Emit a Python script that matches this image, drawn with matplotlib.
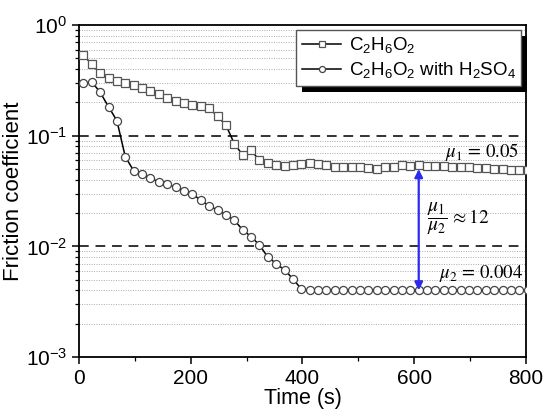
import matplotlib
matplotlib.use('Agg')
import matplotlib.pyplot as plt
from matplotlib.patches import Rectangle
from matplotlib.transforms import IdentityTransform
from matplotlib.ticker import LogLocator, MultipleLocator, NullFormatter

plt.rcParams['font.family'] = ['Liberation Sans', 'DejaVu Sans']
plt.rcParams['mathtext.default'] = 'regular'

# ---- data ----
time_s = [8, 23, 38, 53, 68, 83, 98, 113, 128, 143, 158, 173, 188, 203, 218, 233,
          248, 263, 278, 293, 308, 323, 338, 353, 368, 383, 398, 413, 428, 443, 458,
          473, 488, 503, 518, 533, 548, 563, 578, 593, 608, 623, 638, 653, 668, 683,
          698, 713, 728, 743, 758, 773, 788, 803]

mu_eg = [0.536, 0.444, 0.366, 0.330, 0.314, 0.301, 0.285, 0.268, 0.253, 0.237,
         0.218, 0.207, 0.196, 0.189, 0.187, 0.178, 0.150, 0.125, 0.085, 0.067,
         0.074, 0.060, 0.057, 0.054, 0.053, 0.054, 0.055, 0.057, 0.055, 0.054,
         0.052, 0.0525, 0.0525, 0.052, 0.051, 0.050, 0.052, 0.0525, 0.054, 0.053,
         0.054, 0.053, 0.053, 0.053, 0.052, 0.052, 0.052, 0.051, 0.051, 0.050,
         0.050, 0.049, 0.049, 0.049]

mu_eg_acid = [0.297, 0.308, 0.247, 0.183, 0.137, 0.0646, 0.0483, 0.0448, 0.0412,
              0.0384, 0.0366, 0.0342, 0.0319, 0.0297, 0.0262, 0.0232, 0.0213,
              0.0192, 0.0173, 0.0141, 0.01225, 0.0103, 0.0080, 0.0070, 0.0061,
              0.0051, 0.0041, 0.004, 0.004, 0.004, 0.004, 0.004, 0.004, 0.004,
              0.004, 0.004, 0.004, 0.004, 0.004, 0.004, 0.004, 0.004, 0.004, 0.004,
              0.004, 0.004, 0.004, 0.004, 0.004, 0.004, 0.004, 0.004, 0.004, 0.004]

series_labels = [r'C$_2$H$_6$O$_2$', r'C$_2$H$_6$O$_2$ with H$_2$SO$_4$']
ref_lines = [0.1, 0.01]
mu1, mu2 = 0.05, 0.004
arrow_time = 608

fig = plt.figure(figsize=(5.44, 4.12), dpi=100)
ax = fig.add_axes([0.145, 0.1335, 0.822, 0.8055])

ax.set_yscale('log')
ax.set_xlim(0, 800)
ax.set_ylim(1e-3, 1)

ax.yaxis.set_minor_locator(LogLocator(base=10, subs=range(2, 10)))
ax.yaxis.set_minor_formatter(NullFormatter())
ax.yaxis.set_major_locator(LogLocator(base=10, numticks=10))
ax.xaxis.set_major_locator(MultipleLocator(200))
ax.xaxis.set_minor_locator(MultipleLocator(100))
ax.grid(True, which='minor', axis='y', linestyle=(0, (1, 1.5)), color='#aaaaaa', lw=0.7)
for v in ref_lines:
    ax.axhline(v, color='#333333', lw=1.4, ls=(0, (5, 3.5)), zorder=1)

ax.plot(time_s, mu_eg, color='black', lw=1.1, marker='s', ms=5.4,
        mfc='white', mec='#555555', mew=0.9, label=series_labels[0], zorder=3)
ax.plot(time_s, mu_eg_acid, color='black', lw=1.1, marker='o', ms=5.8,
        mfc='white', mec='#444444', mew=0.9, label=series_labels[1], zorder=3)

ax.annotate('', xy=(arrow_time, mu2), xytext=(arrow_time, mu1),
            arrowprops=dict(arrowstyle='<|-|>', color='#2a2aee', lw=1.6,
                            mutation_scale=12, shrinkA=0, shrinkB=0), zorder=4)

ax.text(655, 0.071, r'$\mathit{\mu}_{\mathrm{1}}\mathrm{\,=\,0.05}$', fontsize=13.5,
        math_fontfamily='stix', ha='left', va='center')
ax.text(622, 0.0177, r'$\dfrac{\mathit{\mu}_{\mathrm{1}}}{\mathit{\mu}_{\mathrm{2}}}\mathrm{\,\approx 12}$',
        fontsize=14, math_fontfamily='stix', ha='left', va='center')
ax.text(645, 0.0057, r'$\mathit{\mu}_{\mathrm{2}}\mathrm{\,=\,0.004}$', fontsize=13.5,
        math_fontfamily='stix', ha='left', va='center')

ax.set_xlabel('Time (s)', fontsize=15.5, labelpad=0)
ax.set_ylabel('Friction coefficient', fontsize=16, labelpad=1)
ax.tick_params(axis='both', which='major', direction='out', length=5, width=1.1,
               labelsize=15, top=False, right=False)
ax.tick_params(axis='both', which='minor', direction='out', length=3, width=0.9,
               top=False, right=False)
for sp in ax.spines.values():
    sp.set_linewidth(1.3)

leg = ax.legend(loc='upper right', fontsize=13.5, frameon=True, fancybox=False,
                edgecolor='#555555', framealpha=1, borderaxespad=0.25,
                handlelength=2.1, handletextpad=0.4, labelspacing=0.25,
                borderpad=0.3, markerscale=0.75)
leg.get_frame().set_linewidth(1.0)
leg.set_zorder(6)

fig.canvas.draw()
bb = leg.get_frame().get_window_extent(fig.canvas.get_renderer())
shadow = Rectangle((bb.x0 + 6, bb.y0 - 6), bb.width, bb.height, transform=IdentityTransform(),
                   facecolor='black', edgecolor='none', zorder=5.5, clip_on=False)
ax.add_artist(shadow)

fig.savefig('out.png', dpi=100, facecolor='white')
